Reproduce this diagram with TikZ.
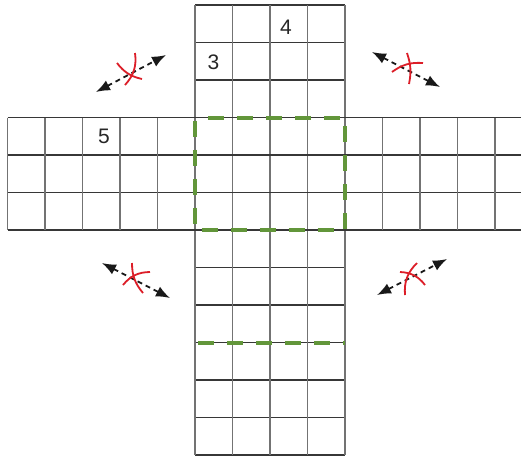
\documentclass[tikz,border=0pt]{standalone}
\usepackage{fontspec}
\setmainfont{Liberation Sans}
\usetikzlibrary{arrows.meta}
\definecolor{gridh}{RGB}{55,55,55}
\definecolor{gridv}{RGB}{115,115,115}
\definecolor{dgreen}{RGB}{98,150,58}
\definecolor{xred}{RGB}{220,30,40}
\tikzset{
  hline/.style={draw=gridh,line width=1.6pt},
  vline/.style={draw=gridv,line width=1.9pt},
  greendash/.style={draw=dgreen,line width=4pt,dash pattern=on 16pt off 13pt,dash phase=-3pt},
  darrow/.style={draw=black!90,line width=1.8pt,dash pattern=on 5pt off 4pt,{Latex[length=14pt,width=11pt]}-{Latex[length=14pt,width=11pt]}},
  xmark/.style={draw=xred,line width=1.8pt},
  num/.style={font=\fontsize{21}{21}\selectfont,text=black!85,inner sep=0pt}
}
\begin{document}
\begin{tikzpicture}[x=1pt,y=-1pt]
\useasboundingbox (0,0) rectangle (521,456);
\fill[white] (0,0) rectangle (521,456);
% vertical strip
\foreach \k in {0,...,12} { \draw[hline] (195,5+37.5*\k) -- (345,5+37.5*\k); }
\foreach \x in {195,232.5,270,307.5,345} { \draw[vline] (\x,5) -- (\x,455); }
% horizontal strip
\foreach \y in {117.5,155,192.5,230} { \draw[hline] (7.5,\y) -- (521,\y); }
\foreach \x in {7.5,45,82.5,120,157.5,382.5,420,457.5,495} { \draw[vline] (\x,117.5) -- (\x,230); }
% green dashed
\draw[greendash] (195,117.5) rectangle (345,230);
\draw[greendash] (195,342.5) -- (345,342.5);
% numbers
\node[num] (n5) at (104,136) {5};
\node[num] (n3) at (213.5,62) {3};
\node[num] (n4) at (286,27) {4};
% arrows
\coordinate (a1s) at (96,92); \coordinate (a1e) at (166,55);
\coordinate (a2s) at (372,52); \coordinate (a2e) at (440,87);
\coordinate (a3s) at (102,263); \coordinate (a3e) at (170,298);
\coordinate (a4s) at (377,295); \coordinate (a4e) at (447,259);
\draw[darrow] (a1s) -- (a1e);
\draw[darrow] (a2s) -- (a2e);
\draw[darrow] (a3s) -- (a3e);
\draw[darrow] (a4s) -- (a4e);
% red crosses
\draw[xmark] (117,63) to[bend right=20] (142,79);
\draw[xmark] (135,53) to[bend left=25] (125,85);
\draw[xmark] (392,72) to[bend left=20] (423,63);
\draw[xmark] (407,53) to[bend left=15] (409,84);
\draw[xmark] (132,263) to[bend right=20] (143,293);
\draw[xmark] (123,285) to[bend left=25] (150,272);
\draw[xmark] (400,272) to[bend left=25] (425,285);
\draw[xmark] (417,263) to[bend right=25] (405,295);
\end{tikzpicture}
\end{document}
